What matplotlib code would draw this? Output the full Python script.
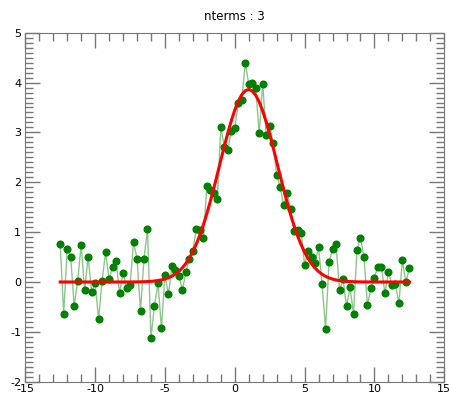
import matplotlib
matplotlib.use('Agg')
import matplotlib.pyplot as plt
import numpy as np
from matplotlib.ticker import MultipleLocator

# data (x = -12.5 .. 12.5, step 0.25)
x = np.arange(101) * 0.25 - 12.5
y = np.array([
    0.76, -0.64, 0.67, 0.51, -0.48, 0.02, 0.74, -0.17, 0.51, -0.20,
    -0.03, -0.74, 0.02, 0.60, 0.05, 0.31, 0.42, -0.22, 0.19, -0.13,
    -0.07, 0.80, 0.47, -0.58, 0.47, 1.06, -1.12, -0.48, -0.02, -0.93,
    0.15, -0.25, 0.32, 0.25, 0.12, -0.16, 0.20, 0.47, 0.63, 1.07,
    1.04, 0.88, 1.93, 1.85, 1.78, 1.66, 3.10, 2.71, 2.65, 3.02,
    3.08, 3.60, 3.65, 4.39, 3.98, 4.00, 3.90, 2.98, 3.98, 2.95,
    3.13, 2.78, 2.15, 1.91, 1.54, 1.78, 1.46, 1.02, 1.04, 0.99,
    0.35, 0.63, 0.51, 0.39, 0.70, -0.05, -0.94, 0.40, 0.66, 0.76,
    -0.17, 0.07, -0.49, -0.11, -0.64, 0.65, 0.89, 0.50, -0.46, -0.13,
    0.09, 0.31, 0.31, -0.23, 0.21, -0.06, -0.05, -0.43, 0.44, -0.01,
    0.29])
nterms = 3
title = 'nterms : %d' % nterms


# 3-term gaussian fit (height, centre, width), plain gauss-newton
def gauss(p, x):
    return p[0] * np.exp(-0.5 * ((x - p[1]) / p[2]) ** 2)


p = np.array([y.max(), x[np.argmax(y)], 2.0])
for it in range(50):
    z = (x - p[1]) / p[2]
    e = np.exp(-0.5 * z ** 2)
    J = np.column_stack([e, p[0] * e * z / p[2], p[0] * e * z ** 2 / p[2]])
    r = y - gauss(p, x)
    dp = np.linalg.lstsq(J, r, rcond=None)[0]
    p = p + dp
    if np.abs(dp).max() < 1e-8:
        break
yfit = gauss(p, x)

plt.rcParams['axes.unicode_minus'] = False
fig = plt.figure(figsize=(4.49, 3.94), dpi=100)
ax = fig.add_axes([0.0563, 0.0312, 0.9332, 0.8858])

ax.plot(x, y, '-', color='green', lw=1.0, alpha=0.45)
ax.plot(x, y, 'o', color='green', ms=4.8, mec='green')
ax.plot(x, yfit, '-', color='red', lw=2.2)

ax.set_xlim(-15, 15)
ax.set_ylim(-2, 5)
ax.xaxis.set_major_locator(MultipleLocator(5))
ax.xaxis.set_minor_locator(MultipleLocator(1))
ax.yaxis.set_major_locator(MultipleLocator(1))
ax.yaxis.set_minor_locator(MultipleLocator(0.1))
ax.tick_params(which='both', direction='in', top=True, right=True,
               color='#777777', labelsize=8, width=1)
ax.tick_params(which='major', length=10.5)
ax.tick_params(which='minor', length=5.5)
ax.tick_params(axis='x', which='major', pad=1.5)
ax.tick_params(axis='y', which='major', pad=3)
for s in ax.spines.values():
    s.set_color('#777777')
ax.set_title(title, fontsize=8.5, pad=9)

plt.savefig('out.png', dpi=100)
